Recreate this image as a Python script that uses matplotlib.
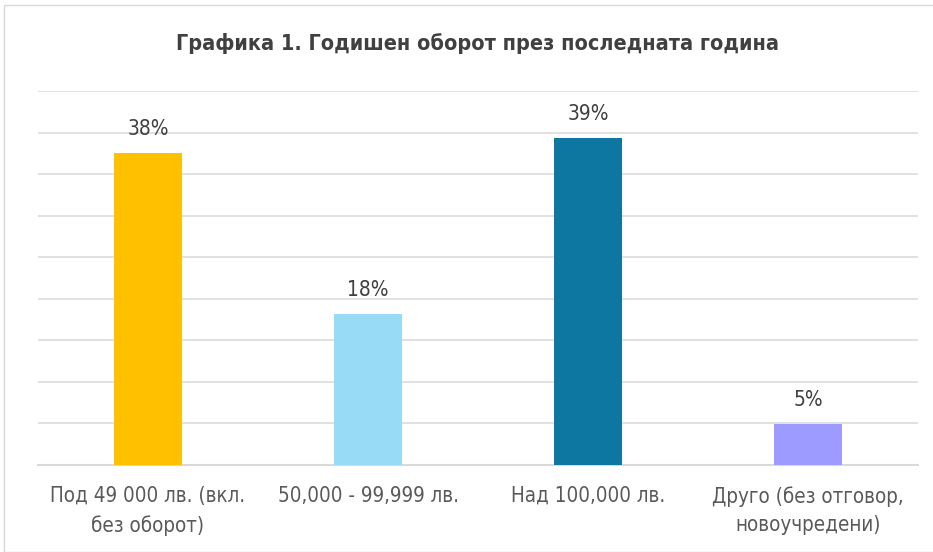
import matplotlib.pyplot as plt
import numpy as np

categories = ["Под 49 000 лв. (вкл.\nбез оборот)", "50,000 - 99,999 лв.",
              "Над 100,000 лв.", "Друго (без отговор,\nновоучредени)"]
values = [37.6, 18.2, 39.3, 4.9]
colors = ["#FFC000", "#97DBF7", "#0E77A1", "#9D9BFF"]
title = "Графика 1. Годишен оборот през последната година"

plt.rcParams['font.family'] = ['DejaVu Sans']
plt.rcParams['font.stretch'] = 'condensed'

fig = plt.figure(figsize=(9.33, 5.52), dpi=100)
ax = fig.add_axes([38 / 933, 1 - 465 / 552, 880 / 933, 374 / 552])

x = np.arange(len(categories))
ax.bar(x, values, width=0.31, color=colors, zorder=3)
for xi, v in zip(x, values):
    ax.annotate(f"{v:.0f}%", (xi, v), xytext=(0, 10), textcoords="offset points",
                ha="center", va="bottom", fontsize=15, color="#404040",
                stretch="condensed")

ax.set_xlim(-0.5, len(categories) - 0.5)
ax.set_ylim(0, 45)
ax.set_yticks(np.arange(0, 46, 5))
ax.yaxis.grid(True, color="#D9D9D9", linewidth=1.1, zorder=0)
ax.tick_params(axis="y", left=False, labelleft=False)
ax.tick_params(axis="x", length=0, pad=15)
ax.set_xticks(x)
ax.set_xticklabels(categories, fontsize=14.8, color="#595959", linespacing=1.55,
                   stretch="condensed")
for s in ["top", "right", "left"]:
    ax.spines[s].set_visible(False)
ax.spines["bottom"].set_color("#D9D9D9")
ax.spines["bottom"].set_linewidth(1.5)

fig.text(478 / 933, 1 - 43 / 552, title, ha="center", va="center", fontsize=15.5,
         fontweight="bold", color="#404040", stretch="condensed")

border = plt.Rectangle((4 / 933, 0.0), 1.2, 1 - 5 / 552, transform=fig.transFigure,
                       fill=False, edgecolor="#D9D9D9", linewidth=1)
fig.patches.append(border)

fig.savefig("out.png", dpi=100)
